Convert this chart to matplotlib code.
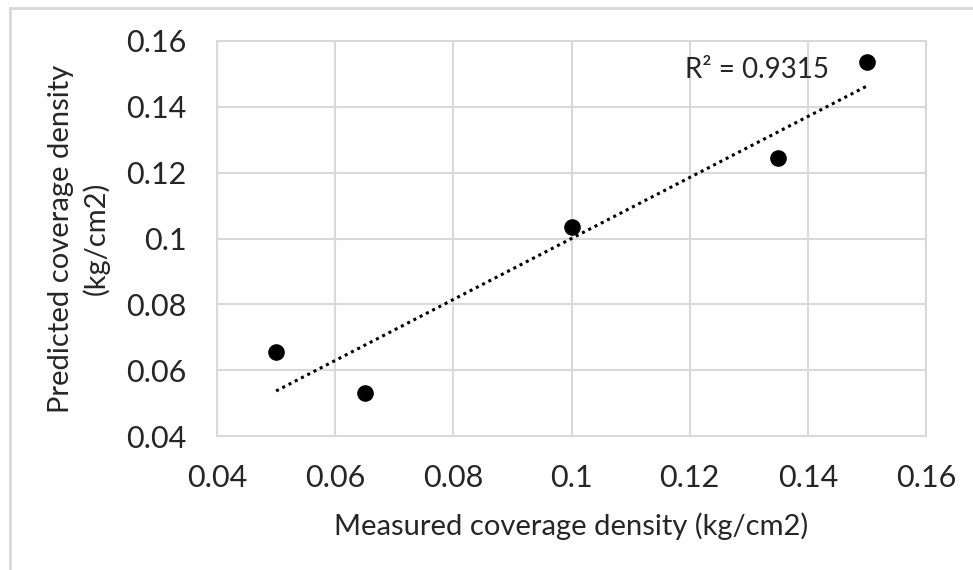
import numpy as np
import matplotlib
matplotlib.use('Agg')
import matplotlib.pyplot as plt
from matplotlib.lines import Line2D

plt.rcParams['font.family'] = ['Lato', 'DejaVu Sans']

# datos
medido = [0.05, 0.065, 0.1, 0.135, 0.15]
predicho = [0.0655, 0.053, 0.1035, 0.1245, 0.1535]
r2_texto = 'R² = 0.9315'
ticks = [0.04, 0.06, 0.08, 0.1, 0.12, 0.14, 0.16]
etiquetas = ['0.04', '0.06', '0.08', '0.1', '0.12', '0.14', '0.16']

fig = plt.figure(figsize=(9.73, 5.70), dpi=100)
ax = fig.add_axes([217/973, 1-436/570, (926-217)/973, (436-41)/570])

gris = '#d9d9d9'
texto = '#262626'

# marco exterior del grafico
fig.add_artist(Line2D([10/973, 1], [1-8/570, 1-8/570], color=gris, lw=2, transform=fig.transFigure))
fig.add_artist(Line2D([10/973, 10/973], [0, 1-8/570], color=gris, lw=2, transform=fig.transFigure))

# linea de tendencia (ajuste lineal)
m, b = np.polyfit(medido, predicho, 1)
xt = np.array([min(medido), max(medido)])
ax.plot(xt, m*xt + b, linestyle=(0, (1, 1.3)), color='black', lw=2.2, zorder=2)

ax.scatter(medido, predicho, s=120, color='black', zorder=3)

ax.text(0.1192, 0.1512, r2_texto, fontsize=20, va='center', ha='left', color=texto)

ax.set_xlim(0.04, 0.16)
ax.set_ylim(0.04, 0.16)
ax.set_xticks(ticks)
ax.set_xticklabels(etiquetas)
ax.set_yticks(ticks)
ax.set_yticklabels(etiquetas)
ax.tick_params(length=0, labelsize=22, colors=texto)
ax.tick_params(axis='x', pad=20)
ax.tick_params(axis='y', pad=22)
ax.grid(True, color=gris, lw=1.5)
ax.set_axisbelow(True)
for s in ax.spines.values():
    s.set_color(gris)
    s.set_linewidth(1.5)

ax.set_xlabel('Measured coverage density (kg/cm2)', fontsize=21, color=texto, labelpad=15)
ax.set_ylabel('Predicted coverage density\n(kg/cm2)', fontsize=21, color=texto, labelpad=12, linespacing=1.35)

fig.savefig('out.png', dpi=100)
